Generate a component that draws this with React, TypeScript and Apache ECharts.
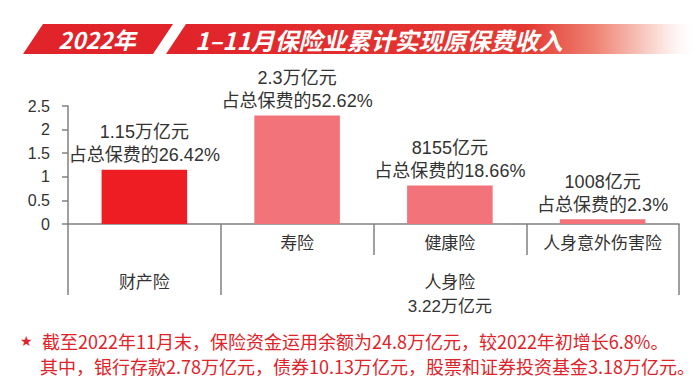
import React, { useEffect, useRef } from "react";
import * as echarts from "echarts";

const categories = ["财产险", "寿险", "健康险", "人身意外伤害险"];
const values = [1.15, 2.3, 0.8155, 0.1008];
const amounts = ["1.15万亿元", "2.3万亿元", "8155亿元", "1008亿元"];
const shares = ["26.42%", "52.62%", "18.66%", "2.3%"];
const groupNames = ["财产险", "人身险"];
const groupTotal = "3.22万亿元";
const yTicks = [0, 0.5, 1, 1.5, 2, 2.5];
const titleYear = "2022年";
const titleMain = "1–11月保险业累计实现原保费收入";
const notes = [
  "截至2022年11月末，保险资金运用余额为24.8万亿元，较2022年初增长6.8%。",
  "其中，银行存款2.78万亿元，债券10.13万亿元，股票和证券投资基金3.18万亿元。",
];

const FONT = '"Liberation Sans", Arial, "Noto Sans CJK SC", sans-serif';
const AXIS_COLOR = "#808080";
const TEXT_COLOR = "#333333";
const RED = "#E02229";

export default function App() {
  const ref = useRef<HTMLDivElement>(null);
  useEffect(() => {
    if (!ref.current) return;
    const chart = echarts.init(ref.current, undefined, { renderer: "svg" });
    const level2 = categories.map((_, i) =>
      i === 0 ? groupNames[0] : i === 2 ? `${groupNames[1]}\n${groupTotal}` : ""
    );
    chart.setOption({
      animation: false,
      backgroundColor: "#ffffff",
      textStyle: { fontFamily: FONT },
      grid: { left: 68, right: 21, top: 106, bottom: 160, containLabel: false },
      xAxis: [
        {
          type: "category",
          data: categories,
          position: "bottom",
          axisLine: { show: true, lineStyle: { color: AXIS_COLOR, width: 1.5 } },
          axisTick: { show: true, length: 31, interval: 0, lineStyle: { color: AXIS_COLOR, width: 1.5 } },
          axisLabel: {
            interval: 0,
            margin: 11,
            fontSize: 17,
            color: TEXT_COLOR,
            fontFamily: FONT,
            formatter: (v: string, i: number) => (i === 0 ? "" : v),
          },
        },
        {
          type: "category",
          data: level2,
          position: "bottom",
          offset: 31,
          axisLine: { show: false },
          axisTick: {
            show: true,
            length: 40,
            interval: (i: number) => i === 0 || i === 1,
            lineStyle: { color: AXIS_COLOR, width: 1.5 },
          },
          axisLabel: {
            interval: 0,
            margin: 15,
            fontSize: 17,
            lineHeight: 24,
            color: TEXT_COLOR,
            fontFamily: FONT,
          },
        },
      ],
      yAxis: {
        type: "value",
        min: 0,
        max: 2.5,
        interval: 0.5,
        axisLine: { show: true, lineStyle: { color: AXIS_COLOR, width: 1.5 } },
        axisTick: { show: true, length: 6, lineStyle: { color: AXIS_COLOR, width: 1.5 } },
        splitLine: { show: false },
        axisLabel: {
          margin: 18,
          fontSize: 16,
          color: TEXT_COLOR,
          fontFamily: FONT,
          formatter: (v: number) => (yTicks.includes(v) ? String(v) : ""),
        },
      },
      series: [
        {
          type: "bar",
          xAxisIndex: 0,
          data: values.map((v, i) => ({
            value: v,
            itemStyle: { color: i === 0 ? "#EE1D24" : "#F2737A" },
          })),
          barWidth: "56%",
          label: {
            show: true,
            position: "top",
            distance: 3,
            fontSize: 18,
            lineHeight: 23,
            color: TEXT_COLOR,
            fontFamily: FONT,
            formatter: (p: any) => `${amounts[p.dataIndex]}\n占总保费的${shares[p.dataIndex]}`,
          },
        },
      ],
      graphic: [
        {
          type: "polygon",
          shape: { points: [[186, 24], [700, 24], [700, 54], [166, 54]] },
          style: {
            fill: new echarts.graphic.LinearGradient(0, 0, 1, 0, [
              { offset: 0, color: "#E1232A" },
              { offset: 0.68, color: "#E43A33" },
              { offset: 0.8, color: "#EE8070" },
              { offset: 0.92, color: "#FADCD5" },
              { offset: 1, color: "rgba(255,255,255,0)" },
            ]),
          },
        },
        {
          type: "polygon",
          shape: { points: [[43, 24], [173, 24], [153, 54], [23, 54]] },
          style: { fill: "#E1232A" },
        },
        {
          type: "text",
          x: 97,
          y: 39,
          style: {
            text: titleYear,
            fill: "#ffffff",
            font: 'italic bold 23px "Noto Sans CJK SC", sans-serif',
            align: "center",
            verticalAlign: "middle",
            shadowColor: "rgba(0,0,0,0.35)",
            shadowBlur: 2,
            shadowOffsetX: 1,
            shadowOffsetY: 1,
          },
        },
        {
          type: "text",
          x: 195,
          y: 39,
          style: {
            text: titleMain,
            fill: "#ffffff",
            font: 'italic bold 24px "Noto Sans CJK SC", sans-serif',
            align: "left",
            verticalAlign: "middle",
            shadowColor: "rgba(0,0,0,0.35)",
            shadowBlur: 2,
            shadowOffsetX: 1,
            shadowOffsetY: 1,
          },
        },
        {
          type: "text",
          x: 20,
          y: 341,
          style: {
            text: "★",
            fill: RED,
            font: '14px "DejaVu Sans", sans-serif',
            align: "left",
            verticalAlign: "middle",
          },
        },
        {
          type: "text",
          x: 42,
          y: 341,
          style: {
            text: notes[0],
            fill: RED,
            font: '18px "Noto Sans CJK SC", sans-serif',
            align: "left",
            verticalAlign: "middle",
          },
        },
        {
          type: "text",
          x: 40,
          y: 366,
          style: {
            text: notes[1],
            fill: RED,
            font: '18px "Noto Sans CJK SC", sans-serif',
            align: "left",
            verticalAlign: "middle",
          },
        },
      ],
    });
    return () => chart.dispose();
  }, []);
  return <div ref={ref} style={{ width: 700, height: 384, position: "absolute", left: 0, top: 0 }} />;
}
